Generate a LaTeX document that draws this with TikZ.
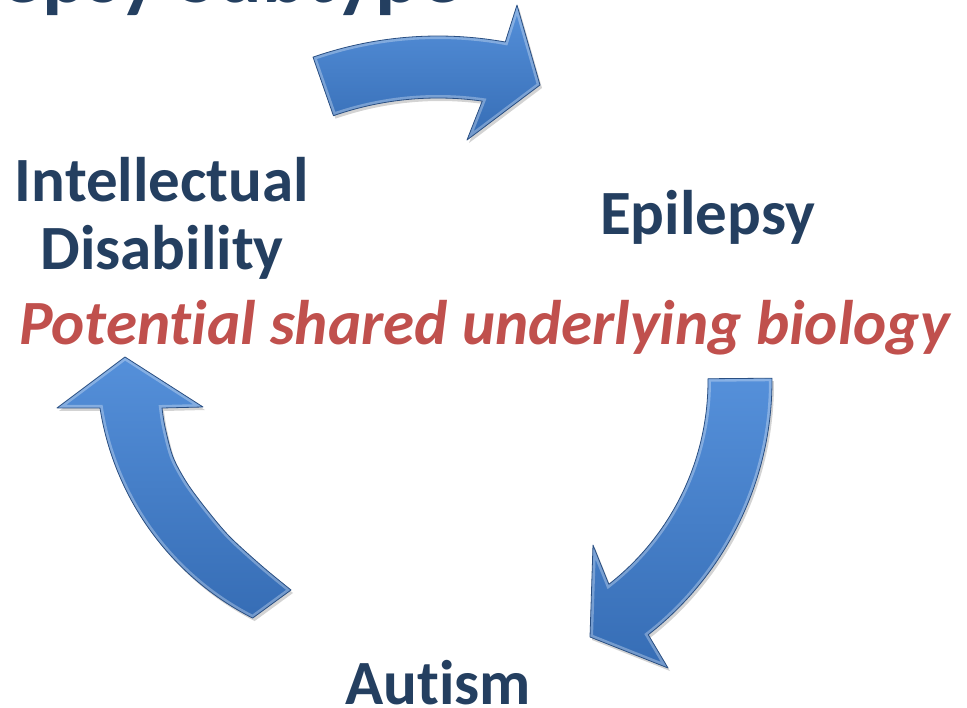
\documentclass[tikz,border=0pt]{standalone}
\usepackage{fontspec}
\setmainfont{Carlito}[Ligatures=NoCommon]
\usetikzlibrary{shadows}
\definecolor{navytext}{HTML}{243F60}
\definecolor{accentred}{HTML}{C0504D}
\definecolor{arrowlight}{HTML}{5590DA}
\definecolor{arrowdark}{HTML}{366DB5}
\definecolor{arrowedge}{HTML}{2A4F82}

% outlines of the three curved block arrows
\newcommand\pathtoparrow{([shift={(438,416)}]-109.2:380) arc[start angle=-109.2, end angle=-79.8, radius=380]
  -- (517,5) -- (540,85) -- (467,140)
  -- ([shift={(438,416)}]-82:318) arc[start angle=-82, end angle=-109.2, radius=318] -- cycle}
\newcommand\pathrightarrow{([shift={(450,381)}]-0.5:322) arc[start angle=-0.5, end angle=52, radius=322]
  -- (668,668) -- (590,637) -- (593,545)
  -- ([shift={(450,381)}]52:258) arc[start angle=52, end angle=-0.5, radius=258] -- cycle}
\newcommand\pathleftarrow{plot[smooth] coordinates {(291,590) (263,567) (230,537) (207,510) (187,483) (173,457) (165,427) (162,408)}
  -- (203,407) -- (125,357) -- (57,408) -- (100,408)
  arc[start angle=171.1, end angle=116.9, radius=285] -- cycle}

\tikzset{
  label text/.style={inner sep=0pt, text=navytext, font=\fontsize{63}{68}\selectfont\bfseries},
  blockarrow/.style={top color=arrowlight, bottom color=arrowdark, line width=0.8pt,
    drop shadow={opacity=0.35, shadow xshift=2pt, shadow yshift=-3pt}},
  bevel/.style={draw=white, opacity=0.3, line width=6pt}
}

\newcommand\bevelarrow[1]{%
  \shade[blockarrow] #1;
  \begin{scope}
    \clip #1;
    \draw[bevel] #1;
  \end{scope}
  \draw[draw=arrowedge, line width=0.8pt, line join=round] #1;
}

\begin{document}
\begin{tikzpicture}[x=1pt, y=-1pt]
  \useasboundingbox (0,0) rectangle (967,708);
  \begin{scope}
    \clip (0,0) rectangle (967,708);
    \node[label text, font=\fontsize{83.5}{90}\selectfont\bfseries, anchor=base east] (title) at (462,3) {Epilepsy Subtype};
  \end{scope}

  \bevelarrow{\pathtoparrow}
  \bevelarrow{\pathrightarrow}
  \bevelarrow{\pathleftarrow}

  \node[label text, align=center] (id) at (162,218) {Intellectual\\Disability};
  \node[label text, anchor=base west] (ep) at (600,235) {Epilepsy};
  \node[label text, anchor=base west] (au) at (345,704) {Autism};
  \node[inner sep=0pt, anchor=base west, text=accentred,
        font=\fontsize{63}{68}\selectfont\bfseries\itshape] (bio) at (19,345) {Potential shared underlying biology};
\end{tikzpicture}
\end{document}
